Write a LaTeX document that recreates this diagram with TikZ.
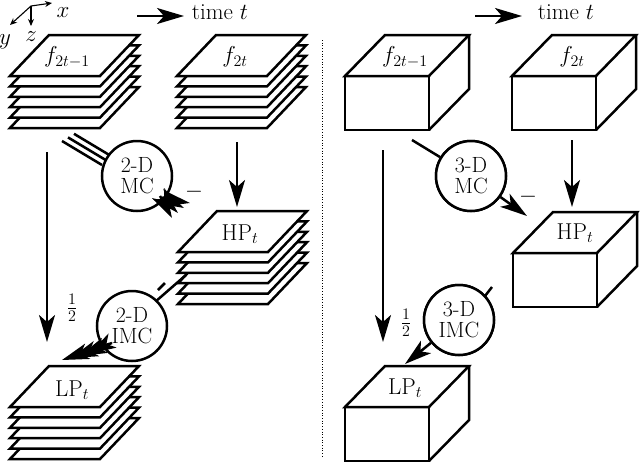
\RequirePackage{fix-cm}
\documentclass[tikz,border=0pt]{standalone}
\usetikzlibrary{arrows.meta}
\begin{document}
\begin{tikzpicture}[x=1pt,y=-1pt,line width=2.5pt,
  arr/.style={-{Stealth[length=27pt,width=16pt,inset=7pt]}},
  sarr/.style={-{Stealth[length=7pt,width=6pt]},line width=1.1pt},
  lbl/.style={font=\fontsize{23}{24}\selectfont,inner sep=0pt},
  circ/.style={circle,draw,fill=white,minimum size=70pt,inner sep=0pt,align=center,font=\fontsize{22}{21}\selectfont}]
\useasboundingbox (0,0) rectangle (640,464);
\newcommand\sheet[2]{\draw[fill=white,line join=miter] (#1,#2) -- ++(90,0) -- ++(39,-41) -- ++(-90,0) -- cycle;}
\newcommand\stack[2]{\foreach \k in {5,4,3,2,1,0}{\sheet{#1}{#2+10.4*\k}}}
\newcommand\cube[2]{\draw[fill=white,line join=miter] (#1,#2) rectangle ++(84,54);
  \draw[fill=white,line join=miter] (#1,#2) -- ++(40,-41) -- ++(84,0) -- ++(-40,41) -- cycle;
  \draw[line join=miter] (#1+124,#2-41) -- ++(0,54) -- ++(-40,41);}
% axes
\coordinate (o) at (31,6);
\coordinate (ax) at (52,3); \coordinate (ay) at (10,25); \coordinate (az) at (31,26);
\draw[sarr] (o) -- (ax); \draw[sarr] (o) -- (ay); \draw[sarr] (o) -- (az);
\node[lbl] (lx) at (63,13) {$x$};
\node[lbl] (ly) at (5,42) {$y$};
\node[lbl] (lz) at (31,37) {$z$};
% time arrows
\coordinate (t1a) at (137,16); \coordinate (t1b) at (184,16);
\draw[arr] (t1a) -- (t1b);
\node[lbl] (tl1) at (220,12) {time $t$};
\coordinate (t2a) at (475,16); \coordinate (t2b) at (522,16);
\draw[arr] (t2a) -- (t2b);
\node[lbl] (tl2) at (566,12) {time $t$};
% dotted divider
\coordinate (d1) at (322,40); \coordinate (d2) at (322,456);
\draw[line width=0.7pt,dotted] (d1) -- (d2);
% ---------- left panel ----------
\stack{10}{76}
\node[lbl] (fa) at (67,57) {$f_{2t-1}$};
\stack{177}{76}
\node[lbl] (fb) at (235,57) {$f_{2t}$};
\coordinate (v1a) at (47,152); \coordinate (v1b) at (47,342);
\draw[arr] (v1a) -- (v1b);
\coordinate (v2a) at (237,142); \coordinate (v2b) at (237,207);
\draw[arr] (v2a) -- (v2b);
% MC
\foreach \d in {0,6,12}{\draw (62+\d,141-\d*0.6) -- (102+\d,165-\d*0.6);}
\node[circ] (mc) at (137,176) {2-D\\MC};
\foreach \d in {0,1,2,3}{\draw[arr] (160+\d*2,196+\d) -- (172+\d*6,218-\d*5);}
\node[lbl] (m1) at (194,192) {$-$};
\stack{178}{252}
\node[lbl] (hp) at (240,234) {HP$_t$};
% IMC
\coordinate (ia) at (186,275); \coordinate (ib) at (155,302);
\draw (ia) -- (ib);
\coordinate (ic) at (165,283); \coordinate (id) at (158,290);
\draw (ic) -- (id);
\node[circ] (imc) at (132,326) {2-D\\IMC};
\foreach \d in {0,1,2,3}{\draw[arr] (112-\d*3,343+\d) -- (62+\d*9,360-\d*2);}
\node[lbl] (h1) at (72,308) {$\frac{1}{2}$};
\stack{10}{407}
\node[lbl] (lp) at (72,390) {LP$_t$};
% ---------- right panel ----------
\cube{345}{76}
\node[lbl] (fc) at (405,57) {$f_{2t-1}$};
\cube{512}{76}
\node[lbl] (fd) at (572,57) {$f_{2t}$};
\coordinate (v3a) at (383,150); \coordinate (v3b) at (383,342);
\draw[arr] (v3a) -- (v3b);
\coordinate (v4a) at (572,140); \coordinate (v4b) at (572,207);
\draw[arr] (v4a) -- (v4b);
\node[circ] (mc3) at (471,176) {3-D\\MC};
\coordinate (i3) at (412,140);
\draw (i3) -- (mc3);
\coordinate (o3) at (527,216);
\draw[arr] (mc3) -- (o3);
\node[circ] at (471,176) {3-D\\MC};
\node[lbl] (m2) at (528,197) {$-$};
\cube{513}{253}
\node[lbl] (hp3) at (575,233) {HP$_t$};
\coordinate (i4) at (492,287);
\draw (i4) -- (485,296);
\node[circ] (imc3) at (459,320) {3-D\\IMC};
\coordinate (o4) at (405,364);
\draw[arr] (imc3) -- (o4);
\node[circ] at (459,320) {3-D\\IMC};
\node[lbl] (h2) at (406,323) {$\frac{1}{2}$};
\cube{345}{407}
\node[lbl] (lp3) at (405,388) {LP$_t$};
\end{tikzpicture}
\end{document}
